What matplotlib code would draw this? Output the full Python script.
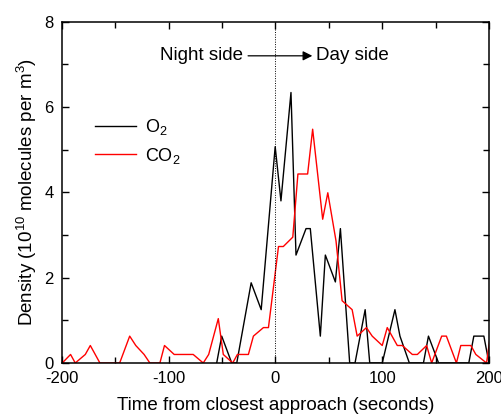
# Density of O2 and CO2 around closest approach
import matplotlib
matplotlib.use('Agg')
import matplotlib.pyplot as plt

plt.rcParams['font.family'] = ['Liberation Sans', 'DejaVu Sans']
plt.rcParams['mathtext.fontset'] = 'custom'
plt.rcParams['mathtext.rm'] = 'Liberation Sans'
plt.rcParams['mathtext.default'] = 'regular'
plt.rcParams['axes.unicode_minus'] = False

# O2 series (time in s, density in 1e10 per m^3)
o2_time = [-55.1, -50.4, -41.0, -36.3, -22.8, -13.4, -0.3, 5.1, 14.5, 19.2, 28.6,
           32.6, 42.0, 46.7, 56.1, 60.8, 69.5, 74.5, 84.0, 88.3, 100.0, 111.9,
           116.6, 125.4, 138.6, 143.3, 152.8, 181.1, 185.8, 195.2, 200.0]
o2_dens = [0.0, 0.63, 0.0, 0.0, 1.88, 1.25, 5.07, 3.8, 6.34, 2.53, 3.15,
           3.15, 0.63, 2.53, 1.9, 3.15, 0.0, 0.0, 1.25, 0.0, 0.0, 1.25,
           0.63, 0.0, 0.0, 0.63, 0.0, 0.0, 0.63, 0.63, 0.0]

# CO2 series
co2_time = [-199.8, -192.0, -187.6, -178.2, -173.5, -164.5, -146.0, -136.6, -130.9,
            -123.1, -117.7, -108.3, -104.0, -94.9, -77.1, -67.7, -62.6, -53.6,
            -48.9, -40.1, -35.7, -25.4, -20.7, -11.3, -6.6, 2.8, 7.3, 16.2, 21.0,
            30.1, 34.8, 44.2, 49.0, 56.7, 62.4, 71.8, 76.5, 85.2, 90.6, 100.0,
            104.7, 114.1, 118.8, 128.2, 132.9, 141.6, 146.3, 155.7, 160.1, 169.5,
            173.6, 183.0, 187.7, 197.7, 200.5]
co2_dens = [0.0, 0.2, 0.0, 0.2, 0.41, 0.0, 0.0, 0.63, 0.41,
            0.2, 0.0, 0.0, 0.41, 0.2, 0.2, 0.0, 0.2, 1.04,
            0.2, 0.0, 0.2, 0.2, 0.63, 0.83, 0.83, 2.73, 2.73, 2.95, 4.43,
            4.43, 5.48, 3.37, 3.99, 2.86, 1.46, 1.25, 0.63, 0.83, 0.63, 0.41,
            0.83, 0.41, 0.41, 0.2, 0.2, 0.41, 0.0, 0.63, 0.63, 0.0,
            0.41, 0.41, 0.2, 0.0, 0.5]

fig = plt.figure(figsize=(5.01, 4.17), dpi=100)
ax = fig.add_axes([0.1238, 0.1295, 0.8522, 0.8185])

ax.plot(o2_time, o2_dens, color='black', lw=1.0, label='O$_2$')
ax.plot(co2_time, co2_dens, color='red', lw=1.0, label='CO$_2$')
ax.axvline(0, color='black', ls=(0, (1, 1.5)), lw=0.7)

ax.set_xlim(-200, 200)
ax.set_ylim(0, 8)
ax.set_xticks([-200, -100, 0, 100, 200])
ax.set_xticks([-150, -50, 50, 150], minor=True)
ax.set_yticks([0, 2, 4, 6, 8])
ax.set_yticks([1, 3, 5, 7], minor=True)
ax.tick_params(which='both', direction='in', top=True, right=True, labelsize=12)
ax.tick_params(axis='x', which='major', pad=6)
ax.tick_params(axis='y', which='major', pad=6)
ax.tick_params(which='major', length=5, width=1)
ax.tick_params(which='minor', length=4, width=1)
for s in ax.spines.values():
    s.set_linewidth(1.1)

ax.set_xlabel('Time from closest approach (seconds)', fontsize=13.5, labelpad=8)
ax.set_ylabel('Density (10$^{10}$ molecules per m$^{3}$)', fontsize=13.5, labelpad=4)

ax.annotate('', xy=(34.5, 7.2), xytext=(-25.7, 7.2),
            arrowprops=dict(arrowstyle='-|>', color='black', lw=0.9,
                            mutation_scale=14, shrinkA=0, shrinkB=0))
ax.text(-30.4, 7.2, 'Night side', ha='right', va='center', fontsize=13.5)
ax.text(38.3, 7.2, 'Day side', ha='left', va='center', fontsize=13.5)

ax.legend(loc='center left', bbox_to_anchor=(0.077, 0.649), frameon=False,
          fontsize=13, handlelength=2.3, handletextpad=0.5, labelspacing=0.45,
          borderpad=0, borderaxespad=0)

fig.savefig('out.png', dpi=100)
